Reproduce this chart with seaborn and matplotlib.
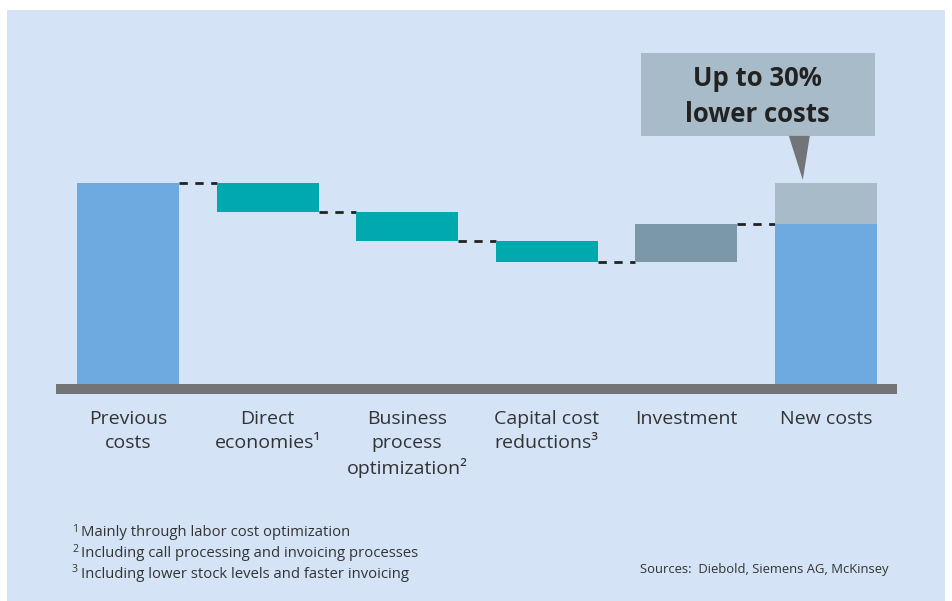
import matplotlib
matplotlib.use("Agg")
import matplotlib.pyplot as plt
from matplotlib.patches import Rectangle, Polygon
import seaborn as sns
import numpy as np

# ---- data ----
categories = ["Previous\ncosts", "Direct\neconomies\u00b9", "Business\nprocess\noptimization\u00b2",
              "Capital cost\nreductions\u00b3", "Investment", "New costs"]
changes = [100.0, -14.5, -14.5, -10.5, 19.0]   # previous level, then steps
footnote_marks = ["1", "2", "3"]
footnotes = ["Mainly through labor cost optimization",
             "Including call processing and invoicing processes",
             "Including lower stock levels and faster invoicing"]
callout_text = "Up to 30%\nlower costs"
sources_text = "Sources:  Diebold, Siemens AG, McKinsey"

# ---- derived waterfall geometry ----
levels = np.cumsum(changes)            # running level after each item
new_cost = levels[-1]
previous = changes[0]
bottoms, heights = [0.0], [previous]
for i in range(1, len(changes)):
    lo = min(levels[i - 1], levels[i])
    bottoms.append(lo)
    heights.append(abs(changes[i]))
bottoms.append(0.0)
heights.append(new_cost)
savings = previous - new_cost

BG = "#d4e3f5"
BLUE = "#6eaadf"
TEAL = "#00a9ad"
INVEST = "#7a98a8"
LIGHTGRAY = "#a7bcc8"
DARKGRAY = "#737478"
TEXT = "#333333"
bar_colors = [BLUE, TEAL, TEAL, TEAL, INVEST, BLUE]

sns.set_theme(style="white")
plt.rcParams["font.family"] = ["Open Sans", "DejaVu Sans"]

W, H = 952, 601
fig = plt.figure(figsize=(W / 100, H / 100), dpi=100)
fig.patch.set_facecolor("white")

def fx(x):
    return x / W

def fy(y):
    return 1 - y / H

# panel background
fig.patches.append(Rectangle((fx(7), fy(601)), fx(945) - fx(7), fy(10) - fy(601),
                             transform=fig.transFigure, facecolor=BG, edgecolor="none", zorder=-5))

ax = fig.add_axes([fx(56), fy(394), fx(897) - fx(56), fy(40) - fy(394)])
ax.set_facecolor("none")
ax.set_zorder(1)

bw = 0.73
sns.barplot(x=categories, y=heights, bottom=bottoms, width=bw, color=BLUE,
            saturation=1, ax=ax, zorder=3, linewidth=0, edgecolor="none")
for patch, c in zip(ax.patches, bar_colors):
    patch.set_facecolor(c)
    patch.set_edgecolor("none")
    patch.set_linewidth(0)

# savings segment on top of new costs
sav_heights = [0] * (len(categories) - 1) + [savings]
sav_bottoms = [0] * (len(categories) - 1) + [new_cost]
sns.barplot(x=categories, y=sav_heights, bottom=sav_bottoms, width=bw, color=LIGHTGRAY,
            saturation=1, ax=ax, zorder=3, linewidth=0, edgecolor="none")
for patch in ax.patches:
    patch.set_linewidth(0)

# dashed connectors
for i in range(len(categories) - 1):
    y = levels[i] if i < len(levels) else new_cost
    ax.plot([i + bw / 2, i + 1 - bw / 2], [y, y], color="#222222", lw=2.0,
            dashes=(3.0, 2.7), solid_capstyle="butt", dash_capstyle="butt", zorder=2)

ax.set_xlim(-0.516, 5.51)
ax.set_ylim(-4.975, 171.1)
ax.axhspan(-4.975, 0, color=DARKGRAY, lw=0, zorder=4)

# callout box with pointer
x5 = len(categories) - 1
ax.add_patch(Rectangle((x5 - 1.325, 123.4), 1.675, 41.3, facecolor=LIGHTGRAY,
                       edgecolor="none", zorder=3))
ax.add_patch(Polygon([[x5 - 0.265, 123.4], [x5 - 0.115, 123.4], [x5 - 0.165, previous + 1.5]],
                     closed=True, facecolor=DARKGRAY, edgecolor="none", zorder=3))
ax.text(x5 - 0.4875, 143.0, callout_text, ha="center", va="center", fontsize=18.5,
        fontweight="bold", color="#222222", linespacing=1.45, zorder=5)

ax.set_xticks(range(len(categories)))
ax.set_xticklabels(categories, fontsize=14, color=TEXT, linespacing=1.4)
ax.tick_params(axis="x", length=0, pad=11.5)
ax.set_yticks([])
ax.set_xlabel("")
ax.set_ylabel("")
sns.despine(ax=ax, left=True, bottom=True)

# footnotes
for k, (m, t) in enumerate(zip(footnote_marks, footnotes)):
    yc = 533 + k * 20.5
    fig.text(fx(72), fy(yc - 4), m, fontsize=7.5, color=TEXT, ha="left", va="center")
    fig.text(fx(81), fy(yc), t, fontsize=10.7, color=TEXT, ha="left", va="center")

fig.text(fx(889), fy(570), sources_text, fontsize=9.4, color=TEXT, ha="right", va="center")

fig.savefig("out.png", dpi=100, facecolor="white")
